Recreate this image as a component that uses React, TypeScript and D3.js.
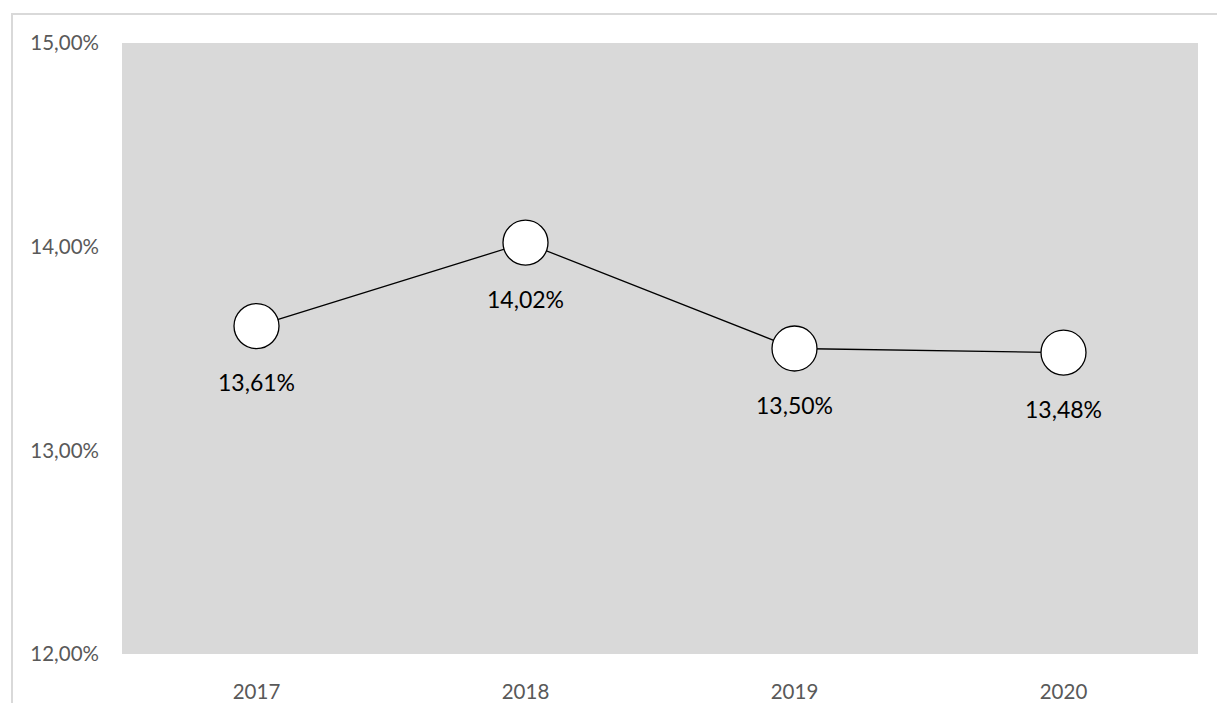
import React from "react";
import * as d3 from "d3";

const categories = ["2017", "2018", "2019", "2020"];
const values = [13.61, 14.02, 13.5, 13.48];
const labels = ["13,61%", "14,02%", "13,50%", "13,48%"];
const yTicks = [12, 13, 14, 15];

const W = 1217;
const H = 703;
const plot = { left: 122, top: 43, right: 1198, bottom: 654 };

export default function App() {
  const x = d3
    .scaleBand<string>()
    .domain(categories)
    .range([plot.left, plot.right]);
  const y = d3.scaleLinear().domain([12, 15]).range([plot.bottom, plot.top]);
  const cx = (c: string) => (x(c) ?? 0) + x.bandwidth() / 2;
  const line = d3
    .line<number>()
    .x((_, i) => cx(categories[i]))
    .y((v) => y(v));
  const font = "Lato, 'Open Sans', sans-serif";
  const fmt = (v: number) => v.toFixed(2).replace(".", ",") + "%";

  return (
    <svg
      width={W}
      height={H}
      style={{ position: "absolute", left: 0, top: 0 }}
    >
      <rect x={0} y={0} width={W} height={H} fill="#fff" />
      <line x1={11} y1={14} x2={W} y2={14} stroke="#d9d9d9" strokeWidth={2} />
      <line x1={12} y1={13} x2={12} y2={H} stroke="#d9d9d9" strokeWidth={2} />
      <rect
        x={plot.left}
        y={plot.top}
        width={plot.right - plot.left}
        height={plot.bottom - plot.top}
        fill="#d9d9d9"
      />
      {yTicks.map((t) => (
        <text
          key={t}
          x={99}
          y={y(t)}
          dy="0.35em"
          textAnchor="end"
          fontFamily={font}
          fontSize={20.5}
          fill="#595959"
        >
          {fmt(t)}
        </text>
      ))}
      {categories.map((c) => (
        <text
          key={c}
          x={cx(c)}
          y={692}
          dy="0.35em"
          textAnchor="middle"
          fontFamily={font}
          fontSize={20.5}
          fill="#595959"
        >
          {c}
        </text>
      ))}
      <path d={line(values) ?? ""} fill="none" stroke="#000" strokeWidth={1.3} />
      {values.map((v, i) => (
        <circle
          key={i}
          cx={cx(categories[i])}
          cy={y(v)}
          r={22.5}
          fill="#fff"
          stroke="#000"
          strokeWidth={1.3}
        />
      ))}
      {values.map((v, i) => (
        <text
          key={"l" + i}
          x={cx(categories[i])}
          y={y(v) + 57}
          dy="0.35em"
          textAnchor="middle"
          fontFamily={font}
          fontSize={23}
          fill="#000"
        >
          {labels[i]}
        </text>
      ))}
    </svg>
  );
}
